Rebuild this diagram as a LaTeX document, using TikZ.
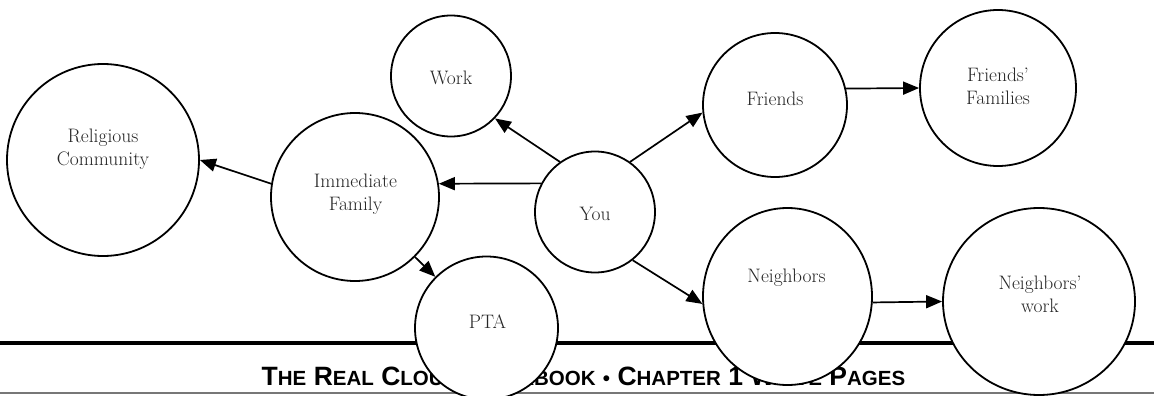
\documentclass[tikz,border=0pt]{standalone}
\usepackage{fontspec}
\newfontfamily\footfont{Liberation Sans}
\usetikzlibrary{shapes.geometric,arrows.meta}
\definecolor{txt}{HTML}{262626}
\definecolor{rulegray}{HTML}{777777}
\newcommand{\bigc}[1]{{\fontsize{26.5}{30}\selectfont #1}}
\newcommand{\smc}[1]{{\fontsize{20.5}{24}\selectfont #1}}
\begin{document}
\begin{tikzpicture}[x=1pt,y=-1pt,
  bubble/.style={draw, line width=1.8pt, fill=white, ellipse, inner sep=0pt},
  lbl/.style={text=txt, font=\fontsize{19.5}{23.5}\selectfont, align=center, inner sep=0pt},
  arr/.style={line width=1.7pt, -{Triangle[length=16pt,width=13pt]}}]
\fill[white] (0,0) rectangle (1154,396);
\useasboundingbox (0,0) rectangle (1154,396);
% footer
\draw[line width=3.2pt] (0,343) -- (1154,343);
\draw[line width=1.6pt, rulegray] (0,393) -- (1154,393);
\node[anchor=base, inner sep=0pt] (foot) at (583.5,385)
  {\footfont\bfseries\fontsize{26.5}{30}\selectfont
   \bigc{T}\smc{HE} \bigc{R}\smc{EAL} \bigc{C}\smc{LOUT} \bigc{W}\smc{ORKBOOK} \smc{\textbullet} \bigc{C}\smc{HAPTER} \bigc{1} \bigc{W}\smc{HITE} \bigc{P}\smc{AGES}};
% bubbles
\node[bubble, minimum width=192pt, minimum height=192pt] (rel) at (103,160) {};
\node[bubble, minimum width=168pt, minimum height=168pt] (imm) at (355,197) {};
\node[bubble, minimum width=120pt, minimum height=121pt] (work) at (451,76) {};
\node[bubble, minimum width=120pt, minimum height=121pt] (you) at (595,212) {};
\node[bubble, minimum width=143pt, minimum height=143pt] (pta) at (486.5,328) {};
\node[bubble, minimum width=144pt, minimum height=144pt] (fr) at (775,105) {};
\node[bubble, minimum width=156pt, minimum height=156pt] (ff) at (998,88) {};
\node[bubble, minimum width=169pt, minimum height=177pt] (nb) at (787.5,296.5) {};
\node[bubble, minimum width=192pt, minimum height=187pt] (nw) at (1039,301.5) {};
% labels
\node[lbl] (t-rel) at (103,149) {Religious\\Community};
\node[lbl] (t-imm) at (355.5,194) {Immediate\\Family};
\node[lbl] (t-work) at (451,78) {Work};
\node[lbl] (t-you) at (595,214) {You};
\node[lbl] (t-pta) at (487.5,322) {PTA};
\node[lbl] (t-fr) at (775,99) {Friends};
\node[lbl] (t-ff) at (998,86.5) {Friends'\\Families};
\node[lbl] (t-nb) at (786.5,278) {Neighbors};
\node[lbl] (t-nw) at (1040,294.5) {Neighbors'\\work};
% arrows
\draw[arr] (you.125) -- (work.-44);
\draw[arr] (you.152) -- (imm.9);
\draw[arr] (imm.171) -- (rel.0);
\draw[arr] (imm.-45) -- (pta.135);
\draw[arr] (you.55) -- (fr.186);
\draw[arr] (fr.13) -- (ff.180);
\draw[arr] (you.-52) -- (nb.185);
\draw[arr] (nb.-4) -- (nw.180);
\end{tikzpicture}
\end{document}
